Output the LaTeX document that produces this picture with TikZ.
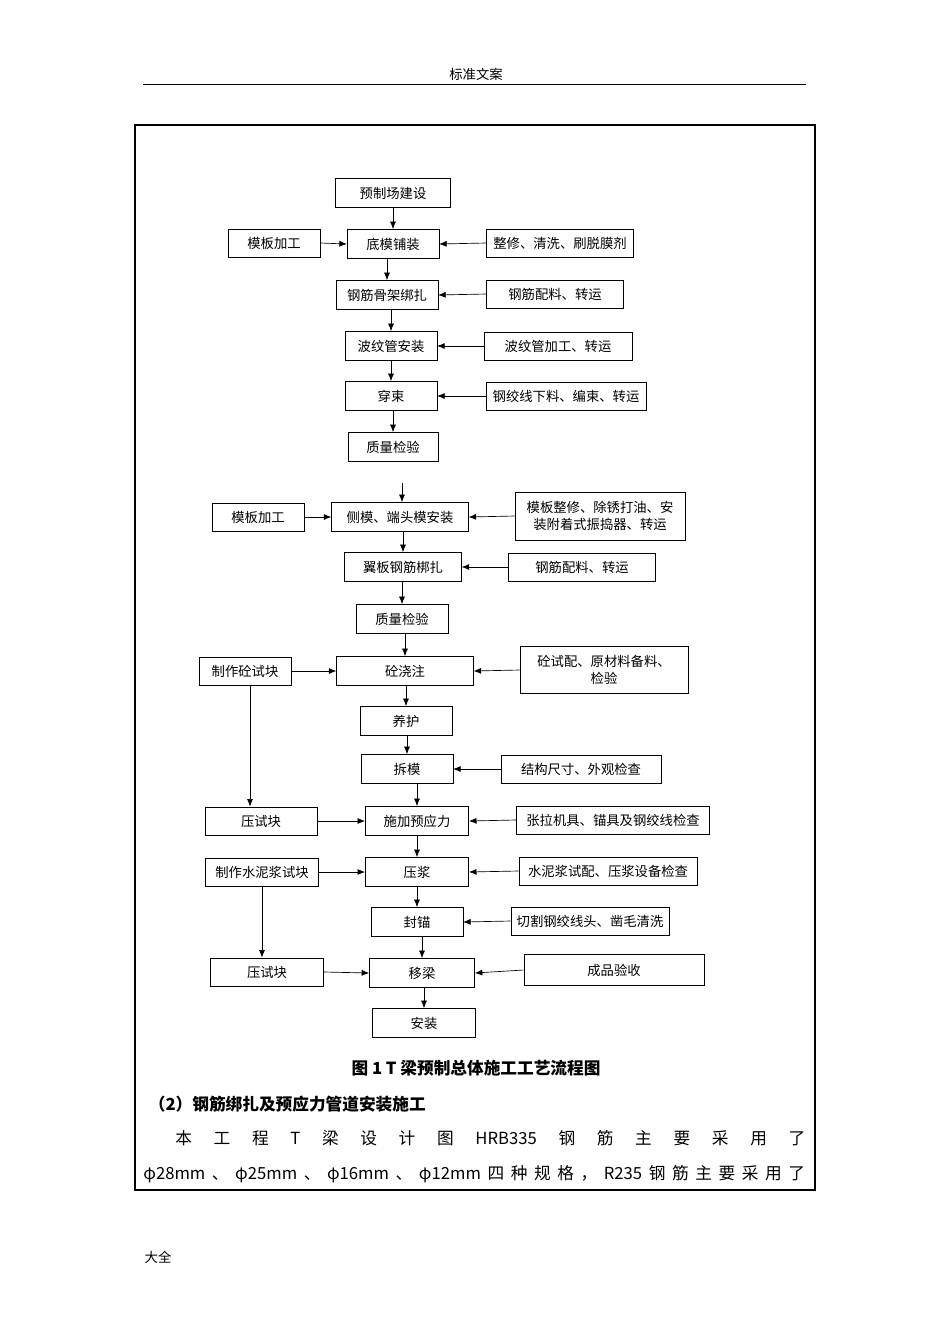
\documentclass[tikz,border=0pt]{standalone}
\usepackage{fontspec}
\setmainfont{Noto Sans CJK SC}
\usetikzlibrary{arrows.meta,positioning}

\begin{document}
\begin{tikzpicture}[x=0.6pt,y=-0.6pt,
	basic/.style = {draw, thin, rectangle, inner sep=1pt, font=\fontsize{8}{10}\selectfont, align=center},
	main/.style  = {basic, minimum height=17.5pt},
	side/.style  = {basic, minimum height=17pt},
	>={Latex[length=4.5pt,width=3.6pt]}]

	\useasboundingbox (0,0) rectangle (950,1344);

	% page header, frame and footer
	\node at (476,74) {\fontsize{8}{10}\selectfont 标准文案};
	\draw[thin] (143,84) -- (806,84);
	\draw[line width=1.2pt] (135,125) rectangle (815,1190);
	\node at (158,1257) {\fontsize{8}{10}\selectfont 大全};

	% first part of the chain
	\node[main, minimum width=69pt] (b1) at (393,193) {预制场建设};
	\node[main, minimum width=55pt] (dm) at (393,244) {底模铺装};
	\node[main, minimum width=61pt] (gj) at (387,295) {钢筋骨架绑扎};
	\node[main, minimum width=55pt] (bw) at (391,346) {波纹管安装};
	\node[main, minimum width=55pt] (cs) at (391,396) {穿束};
	\node[main, minimum width=54pt] (zl1) at (393,447) {质量检验};

	% inputs of the first part
	\begin{scope}[every node/.style={side}]
	\node[minimum width=55pt] (mb1) at (274,243) {模板加工};
	\node[minimum width=88pt] (zx) at (560,243) {整修、清洗、刷脱膜剂};
	\node[minimum width=82pt] (gp1) at (555,294) {钢筋配料、转运};
	\node[minimum width=89pt] (bwj) at (558,346) {波纹管加工、转运};
	\node[minimum width=96pt] (gjx) at (566,396) {钢绞线下料、编束、转运};
	\end{scope}

	% second part of the chain
	\coordinate (top2) at (402,483);
	\node[main, minimum width=82pt] (cm) at (400,517) {侧模、端头模安装};
	\node[main, minimum width=70pt] (yb) at (403,567) {翼板钢筋梆扎};
	\node[main, minimum width=55pt] (zl2) at (402,619) {质量检验};
	\node[main, minimum width=82pt] (jz) at (405,671) {砼浇注};
	\node[main, minimum width=55pt] (yh) at (406,721) {养护};
	\node[main, minimum width=55pt] (cm2) at (407,769) {拆模};
	\node[main, minimum width=62pt] (yyl) at (417,821) {施加预应力};
	\node[main, minimum width=62pt] (yj) at (417,872) {压浆};
	\node[main, minimum width=55pt] (fm) at (417,922) {封锚};
	\node[main, minimum width=63pt] (yl) at (422,973) {移梁};
	\node[main, minimum width=62pt] (az) at (424,1023) {安装};

	% inputs of the second part
	\begin{scope}[every node/.style={side}]
	\node[minimum width=55pt] (mb2) at (258,517) {模板加工};
	\node[minimum width=102pt, minimum height=29pt] (mbz) at (600,516) {模板整修、除锈打油、安\\装附着式振捣器、转运};
	\node[minimum width=88pt] (gp2) at (582,567) {钢筋配料、转运};
	\node[minimum width=55pt] (zz) at (245,671) {制作砼试块};
	\node[minimum width=101pt, minimum height=28pt] (tsp) at (604,670) {砼试配、原材料备料、\\检验};
	\node[minimum width=96pt] (jgc) at (581,769) {结构尺寸、外观检查};
	\node[minimum width=67pt] (ysk) at (261,821) {压试块};
	\node[minimum width=116pt] (zlj) at (613,820) {张拉机具、锚具及钢绞线检查};
	\node[minimum width=68pt] (zs) at (262,872) {制作水泥浆试块};
	\node[minimum width=107pt] (sn) at (608,871) {水泥浆试配、压浆设备检查};
	\node[minimum width=95pt] (qg) at (590,921) {切割钢绞线头、凿毛清洗};
	\node[minimum width=68pt] (ysk2) at (267,972) {压试块};
	\node[minimum width=108pt, minimum height=18.5pt] (cp) at (614,970) {成品验收};
	\end{scope}

	% main chain arrows
	\foreach \a/\b in {b1/dm,dm/gj,gj/bw,bw/cs,cs/zl1,cm/yb,yb/zl2,zl2/jz,jz/yh,yh/cm2,cm2/yyl,yyl/yj,yj/fm,fm/yl,yl/az}
	\draw[->] (\b.north |- \a.south) -- (\b.north);
	\draw[->] (top2) -- (cm.north -| top2);

	% inputs from the left
	\foreach \a/\b in {mb1/dm,mb2/cm,zz/jz,ysk/yyl,zs/yj,ysk2/yl}
	\draw[->] (\a.east) -- (\b.west);

	% inputs from the right
	\foreach \a/\b in {zx/dm,gp1/gj,bwj/bw,gjx/cs,mbz/cm,gp2/yb,tsp/jz,jgc/cm2,zlj/yyl,sn/yj,qg/fm,cp/yl}
	\draw[->] (\a.west) -- (\b.east);

	% test blocks
	\draw[->] ([xshift=3pt]zz.south) -- ([xshift=3pt]zz.south |- ysk.north);
	\draw[->] (zs.south) -- (zs.south |- ysk2.north);

	% caption and text below
	\node at (476,1068) {\fontsize{10}{12}\selectfont\bfseries 图 1 T 梁预制总体施工工艺流程图};
	\node[anchor=west] at (143,1104) {\fontsize{10}{12}\selectfont\bfseries （2）钢筋绑扎及预应力管道安装施工};
	\node[anchor=west, inner sep=0pt, text width=378pt] at (175,1138) {\fontsize{10}{12}\selectfont 本\hfill 工\hfill 程\hfill T\hfill 梁\hfill 设\hfill 计\hfill 图\hfill HRB335\hfill 钢\hfill 筋\hfill 主\hfill 要\hfill 采\hfill 用\hfill 了};
	\node[anchor=west, inner sep=0pt, text width=397pt] at (143,1174) {\fontsize{10}{12}\selectfont φ28mm\hfill 、\hfill φ25mm\hfill 、\hfill φ16mm\hfill 、\hfill φ12mm\hfill 四\hfill 种\hfill 规\hfill 格\hfill ，\hfill R235\hfill 钢\hfill 筋\hfill 主\hfill 要\hfill 采\hfill 用\hfill 了};
\end{tikzpicture}
\end{document}
